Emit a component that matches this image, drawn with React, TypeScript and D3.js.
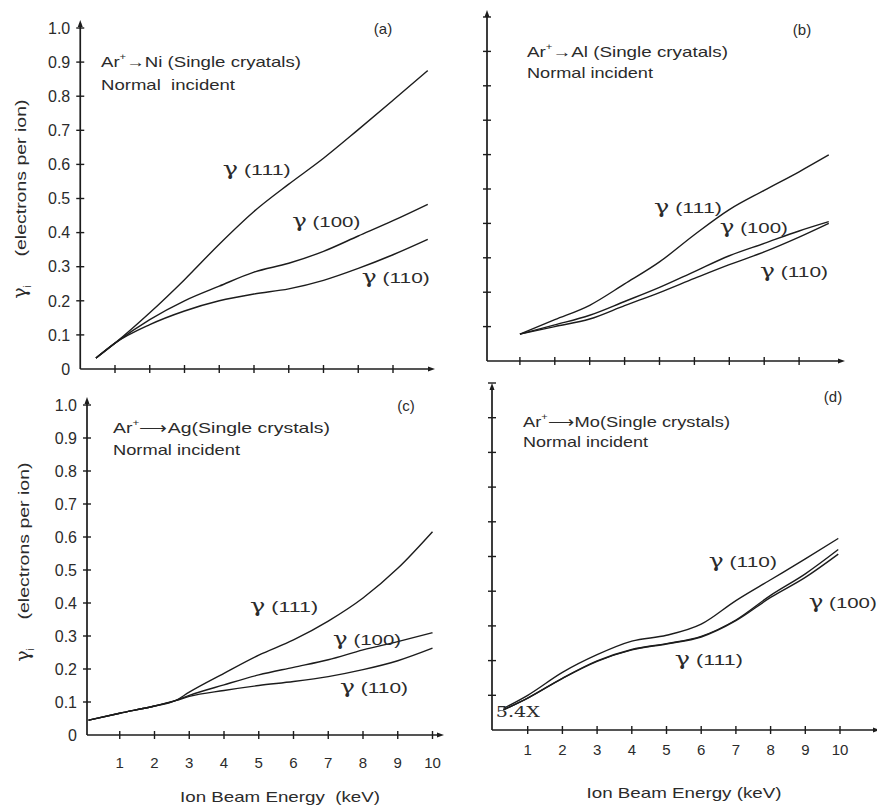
import * as d3 from 'd3';

// ---- data ----
const yTickText = ['0', '0.1', '0.2', '0.3', '0.4', '0.5', '0.6', '0.7', '0.8', '0.9', '1.0'];
const xTickText = ['1', '2', '3', '4', '5', '6', '7', '8', '9', '10'];

// (a) Ar+ -> Ni
const niEnergy = [0.45, 1, 2, 3, 4, 5, 6, 7, 8, 9, 10];
const ni111 = [0.032, 0.076, 0.165, 0.262, 0.366, 0.462, 0.542, 0.618, 0.702, 0.788, 0.875];
const ni100 = [0.032, 0.076, 0.145, 0.2, 0.243, 0.284, 0.31, 0.345, 0.39, 0.435, 0.483];
const ni110 = [0.032, 0.076, 0.13, 0.17, 0.2, 0.22, 0.235, 0.26, 0.295, 0.335, 0.38];

// (b) Ar+ -> Al
const alEnergy = [1, 2, 3, 4, 5, 6, 7, 8, 9, 9.85];
const al111 = [0.078, 0.12, 0.162, 0.224, 0.288, 0.367, 0.44, 0.496, 0.55, 0.599];
const al100 = [0.078, 0.105, 0.133, 0.173, 0.214, 0.26, 0.306, 0.342, 0.378, 0.405];
const al110 = [0.078, 0.1, 0.122, 0.161, 0.199, 0.24, 0.28, 0.317, 0.36, 0.4];

// (c) Ar+ -> Ag
const agEnergy = [0.1, 1, 2, 2.6, 3, 4, 5, 6, 7, 8, 9, 10];
const ag111 = [0.045, 0.066, 0.088, 0.104, 0.13, 0.187, 0.242, 0.288, 0.345, 0.415, 0.505, 0.616];
const ag100 = [0.045, 0.066, 0.088, 0.104, 0.12, 0.152, 0.182, 0.205, 0.228, 0.258, 0.283, 0.31];
const ag110 = [0.045, 0.066, 0.088, 0.104, 0.117, 0.135, 0.15, 0.162, 0.177, 0.198, 0.225, 0.263];

// (d) Ar+ -> Mo
const moEnergy = [0.3, 1, 2, 3, 4, 5, 6, 7, 8, 9, 9.95];
const mo110 = [0.062, 0.1, 0.166, 0.217, 0.256, 0.273, 0.305, 0.373, 0.433, 0.493, 0.552];
const mo100 = [0.058, 0.092, 0.149, 0.199, 0.232, 0.249, 0.27, 0.317, 0.388, 0.45, 0.52];
const mo111 = [0.058, 0.092, 0.149, 0.198, 0.231, 0.248, 0.268, 0.315, 0.382, 0.44, 0.507];

const targets = ['Ni', 'Al', 'Ag', 'Mo'];
const crystalNotes = ['(Single cryatals)', '(Single cryatals)', '(Single crystals)', '(Single crystals)'];

type Series = { name: string; energy: number[]; values: number[]; labelAt: [number, number] };

const panels = [
  {
    letter: '(a)', x0: 80.25, kev: 34.75, y0: 369, unit: 341, xEnd: 432, yEnd: 23, axisShift: 0,
    xTicks: 9, yLabels: true, xLabels: false, letterPos: [383, 34],
    title: { x: 101, y: 67, w: 200, nY: 90, nW: 134 }, arrow: '\u2192',
    yTitle: { x: 26, cy: 178, w: 157, gy: 292 },
    series: [
      { name: '111', energy: niEnergy, values: ni111, labelAt: [4.1, 0.584] },
      { name: '100', energy: niEnergy, values: ni100, labelAt: [6.1, 0.431] },
      { name: '110', energy: niEnergy, values: ni110, labelAt: [8.1, 0.267] },
    ] as Series[],
  },
  {
    letter: '(b)', x0: 485, kev: 34.9, y0: 361, unit: 344, xEnd: 842, yEnd: 13, axisShift: 2,
    xTicks: 9, yLabels: false, xLabels: false, letterPos: [802, 35],
    title: { x: 527, y: 57, w: 201, nY: 78, nW: 126 }, arrow: '\u2192',
    yTitle: null,
    series: [
      { name: '111', energy: alEnergy, values: al111, labelAt: [4.84, 0.445] },
      { name: '100', energy: alEnergy, values: al100, labelAt: [6.73, 0.387] },
      { name: '110', energy: alEnergy, values: al110, labelAt: [7.88, 0.259] },
    ] as Series[],
  },
  {
    letter: '(c)', x0: 85, kev: 34.75, y0: 735, unit: 330, xEnd: 441, yEnd: 400, axisShift: 2,
    xTicks: 10, yLabels: true, xLabels: true, letterPos: [406, 411], tickY: 763, xTitle: { cx: 280, cy: 797, w: 200 },
    title: { x: 113, y: 433, w: 217, nY: 455, nW: 127 }, arrow: '\u27F6',
    yTitle: { x: 29, cy: 541, w: 157, gy: 655 },
    series: [
      { name: '111', energy: agEnergy, values: ag111, labelAt: [4.75, 0.388] },
      { name: '100', energy: agEnergy, values: ag100, labelAt: [7.14, 0.288] },
      { name: '110', energy: agEnergy, values: ag110, labelAt: [7.34, 0.145] },
    ] as Series[],
  },
  {
    letter: '(d)', x0: 493, kev: 34.7, y0: 730, unit: 347, xEnd: 877, yEnd: 386, axisShift: -1,
    xTicks: 10, yLabels: false, xLabels: true, letterPos: [833, 402], tickY: 750, xTitle: { cx: 684, cy: 793, w: 195 },
    title: { x: 523, y: 427, w: 207, nY: 447, nW: 125 }, arrow: '\u27F6',
    yTitle: null,
    series: [
      { name: '110', energy: moEnergy, values: mo110, labelAt: [6.22, 0.484] },
      { name: '100', energy: moEnergy, values: mo100, labelAt: [9.1, 0.366] },
      { name: '111', energy: moEnergy, values: mo111, labelAt: [5.24, 0.202] },
    ] as Series[],
  },
];

const ink = '#1c1c1c';
const textInk = '#2b2b2b';
const sans = '"Liberation Sans", Arial, sans-serif';
const serif = '"DejaVu Serif", "Liberation Serif", serif';

function Panel({ p, idx }: { p: any; idx: number }) {
  const x = d3.scaleLinear().domain([0, 10]).range([p.x0, p.x0 + 10 * p.kev]);
  const y = d3.scaleLinear().domain([0, 1]).range([p.y0, p.y0 - p.unit]);
  const axisX = p.x0 + p.axisShift;
  const line = d3.line<number>().curve(d3.curveMonotoneX);

  const xt = d3.range(1, p.xTicks + 1);
  const yt = d3.range(1, 11).map((d) => d / 10);

  return (
    <g>
      {/* axes */}
      <line x1={axisX} x2={p.xEnd} y1={p.y0} y2={p.y0} stroke={ink} strokeWidth={1.7} />
      <line x1={axisX} x2={axisX} y1={p.y0} y2={p.yEnd} stroke={ink} strokeWidth={1.7} />
      <path d={`M${p.xEnd + 3},${p.y0} l-7,-2.5 l0,5 z`} fill={ink} />
      <path d={`M${axisX},${p.yEnd - 3} l-2.5,7 l5,0 z`} fill={ink} />
      {xt.map((t: number) => (
        <line key={'xt' + t} x1={x(t)} x2={x(t)} y1={p.y0 - 4} y2={p.y0 + 4} stroke={ink} strokeWidth={1.4} />
      ))}
      {yt.map((t) => (
        <line key={'yt' + t} x1={axisX - 4} x2={axisX + 4} y1={y(t)} y2={y(t)} stroke={ink} strokeWidth={1.4} />
      ))}
      {p.yLabels &&
        yTickText.map((s, i) => (
          <text key={'yl' + s} x={axisX - 10} y={y(i / 10)} dy="0.36em" textAnchor="end" fontFamily={sans} fontSize={16} fill={textInk}>
            {s}
          </text>
        ))}
      {p.xLabels &&
        xTickText.map((s, i) => (
          <text key={'xl' + s} x={x(i + 1)} y={p.tickY} dy="0.36em" textAnchor="middle" fontFamily={sans} fontSize={15} fill={textInk}>
            {s}
          </text>
        ))}
      {p.xLabels && (
        <text x={p.xTitle.cx - p.xTitle.w / 2} y={p.xTitle.cy} dy="0.36em" textLength={p.xTitle.w} lengthAdjust="spacingAndGlyphs" fontFamily={sans} fontSize={15} fill={textInk}>
          Ion Beam Energy{idx === 2 ? '\u00A0\u00A0' : ' '}(keV)
        </text>
      )}
      {p.yTitle && (
        <g>
          <text transform={`translate(${p.yTitle.x},${p.yTitle.cy}) rotate(-90)`} x={-p.yTitle.w / 2} textLength={p.yTitle.w} lengthAdjust="spacingAndGlyphs" fontFamily={sans} fontSize={14.5} fill={textInk}>
            (electrons per ion)
          </text>
          <text transform={`translate(${p.yTitle.x},${p.yTitle.gy}) rotate(-90)`} textAnchor="middle" fontFamily={serif} fontSize={19} fill={textInk}>
            γ<tspan dy={5} fontSize={10} fontFamily={sans}>i</tspan>
          </text>
        </g>
      )}

      {/* curves */}
      {p.series.map((s: Series) => (
        <path
          key={s.name}
          d={line.x((_, i) => x(s.energy[i])).y((v) => y(v))(s.values) || ''}
          fill="none"
          stroke={ink}
          strokeWidth={1.4}
        />
      ))}
      {p.series.map((s: Series) => (
        <text key={'lab' + s.name} x={x(s.labelAt[0])} y={y(s.labelAt[1])} dy="0.36em" textLength={68} lengthAdjust="spacingAndGlyphs" fontFamily={sans} fontSize={15} fill={textInk}>
          <tspan fontFamily={serif} fontSize={18}>γ</tspan> ({s.name})
        </text>
      ))}

      {/* annotations */}
      <text x={p.letterPos[0]} y={p.letterPos[1]} textAnchor="middle" fontFamily={sans} fontSize={15} fill={textInk}>
        {p.letter}
      </text>
      <text x={p.title.x} y={p.title.y} textLength={p.title.w} lengthAdjust="spacingAndGlyphs" fontFamily={sans} fontSize={15} fill={textInk}>
        Ar<tspan dy={-7} fontSize={9}>+</tspan><tspan dy={7}>{p.arrow}{targets[idx]}{idx < 2 ? ' ' : ''}{crystalNotes[idx]}</tspan>
      </text>
      <text x={p.title.x} y={p.title.nY} textLength={p.title.nW} lengthAdjust="spacingAndGlyphs" fontFamily={sans} fontSize={15} fill={textInk}>
        Normal{idx === 0 ? '\u00A0\u00A0' : ' '}incident
      </text>
      {idx === 3 && (
        <text x={x(0.08)} y={y(0.037)} textLength={44} lengthAdjust="spacingAndGlyphs" fontFamily={serif} fontSize={15} fill={textInk}>
          5.4X
        </text>
      )}
    </g>
  );
}

export default function App() {
  return (
    <svg width={877} height={807} style={{ position: 'absolute', left: 0, top: 0, background: '#fff' }}>
      <rect width={877} height={807} fill="#fff" />
      {panels.map((p, i) => (
        <Panel key={p.letter} p={p} idx={i} />
      ))}
    </svg>
  );
}
